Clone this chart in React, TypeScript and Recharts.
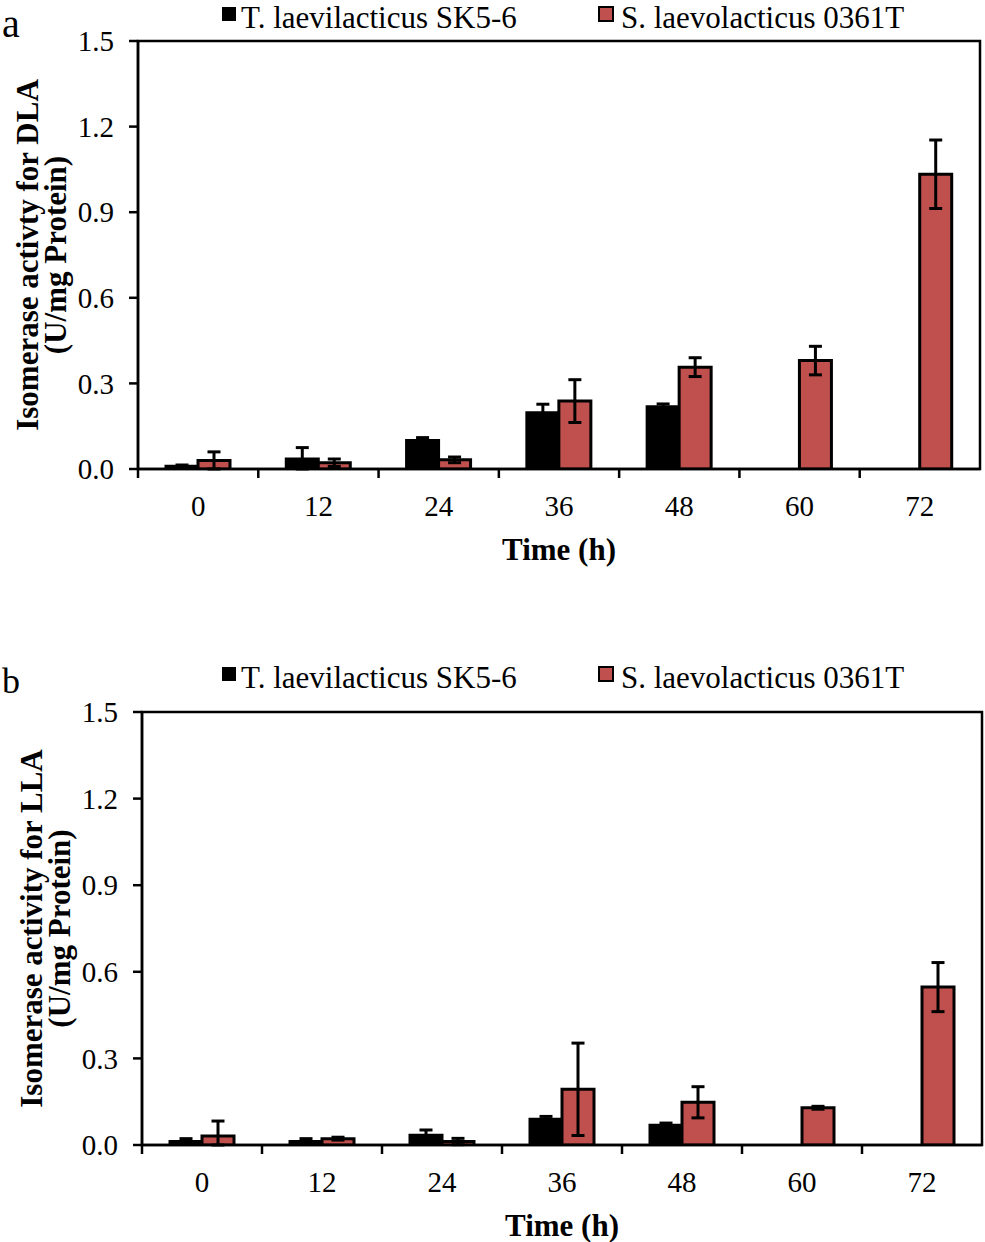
import React from 'react';
import { BarChart, Bar, XAxis, YAxis, ErrorBar, Legend, ReferenceArea } from 'recharts';

const times = ['0', '12', '24', '36', '48', '60', '72'];
const seriesNames = ['T. laevilacticus SK5-6', 'S. laevolacticus 0361T'];
const yTicks = [0, 0.3, 0.6, 0.9, 1.2, 1.5];

// panel a: DLA
const dlaSK = [0.01, 0.035, 0.1, 0.197, 0.218, 0, 0];
const dlaSKErr = [0.004, 0.04, 0.01, 0.03, 0.01, 0, 0];
const dla0361 = [0.03, 0.022, 0.032, 0.238, 0.357, 0.38, 1.033];
const dla0361Err = [0.03, 0.013, 0.01, 0.075, 0.033, 0.05, 0.12];

// panel b: LLA
const llaSK = [0.012, 0.012, 0.034, 0.089, 0.068, 0, 0];
const llaSKErr = [0.01, 0.01, 0.018, 0.01, 0.008, 0, 0];
const lla0361 = [0.031, 0.022, 0.012, 0.193, 0.148, 0.129, 0.547];
const lla0361Err = [0.052, 0.005, 0.011, 0.16, 0.054, 0.005, 0.085];

const FONT = '"Liberation Serif", "Times New Roman", serif';
const RED = '#C0504D';
const X_TICK_SIZE = 8;
const X_TICK_MARGIN = 18;

// lower whisker stops at the axis, like the clipped Excel original
const errPair = (v: number, e: number) => [Math.min(v, e), e];

const makeRows = (sk: number[], skErr: number[], st: number[], stErr: number[]) =>
  times.map((t, i) => ({
    t,
    sk: sk[i],
    skErr: errPair(sk[i], skErr[i]),
    st: st[i],
    stErr: errPair(st[i], stErr[i]),
  }));

const XTick = (props: any) => {
  const { x, y, payload } = props;
  const half = payload && payload.offset ? payload.offset : 60;
  const axisY = y - X_TICK_SIZE - X_TICK_MARGIN;
  return (
    <g>
      <line x1={x - half} x2={x - half} y1={axisY} y2={axisY + 9} stroke="#000" strokeWidth={2.5} />
      <text x={x} y={y} dy="0.71em" textAnchor="middle" fontSize={29} fontFamily={FONT} fill="#000">
        {payload.value}
      </text>
    </g>
  );
};

const LegendBox = () => (
  <div style={{ position: 'relative', height: 34, fontFamily: FONT, fontSize: 31, color: '#000' }}>
    <div style={{ position: 'absolute', left: 222, top: 7, width: 14, height: 14, background: '#000' }} />
    <div style={{ position: 'absolute', left: 241, top: 0, lineHeight: 'normal', whiteSpace: 'nowrap' }}>
      {seriesNames[0]}
    </div>
    <div
      style={{
        position: 'absolute', left: 598, top: 6, width: 12, height: 12,
        background: RED, border: '2px solid #000',
      }}
    />
    <div style={{ position: 'absolute', left: 621, top: 0, lineHeight: 'normal', whiteSpace: 'nowrap' }}>
      {seriesNames[1]}
    </div>
  </div>
);

type PanelProps = {
  letter: string;
  letterSize: number;
  top: number;
  height: number;
  margin: { top: number; right: number; bottom: number; left: number };
  rows: any[];
  yLabel: string[];
};

const Panel = ({ letter, letterSize, top, height, margin, rows, yLabel }: PanelProps) => {
  const plotTop = margin.top;
  const plotBottom = height - margin.bottom - 90;
  const plotLeft = margin.left + 58;
  const plotRight = 985 - margin.right;
  const cy = (plotTop + plotBottom) / 2;

  return (
    <div style={{ position: 'absolute', left: 0, top, width: 985, height }}>
      <div
        style={{
          position: 'absolute', left: 2, top: 0,
          fontFamily: FONT, fontSize: letterSize, lineHeight: 'normal',
        }}
      >
        {letter}
      </div>
      <BarChart width={985} height={height} data={rows} margin={margin} barGap={0}>
        <Legend verticalAlign="middle" wrapperStyle={{ top: 0, left: 0, width: 985 }} content={<LegendBox />} />
        <XAxis
          dataKey="t"
          height={90}
          interval={0}
          tickLine={false}
          tickSize={X_TICK_SIZE}
          tickMargin={X_TICK_MARGIN}
          axisLine={{ stroke: '#000', strokeWidth: 2.5 }}
          tick={<XTick />}
          label={{
            content: () => (
              <text
                x={(plotLeft + plotRight) / 2}
                y={plotBottom + 91}
                textAnchor="middle"
                fontSize={31}
                fontWeight="bold"
                fontFamily={FONT}
                fill="#000"
              >
                Time (h)
              </text>
            ),
          }}
        />
        <YAxis
          type="number"
          domain={[0, 1.5]}
          allowDataOverflow
          ticks={yTicks}
          interval={0}
          width={58}
          tickFormatter={(v: number) => v.toFixed(1)}
          tickSize={9}
          tickMargin={15}
          tick={{ fontSize: 29, fontFamily: FONT, fill: '#000' }}
          tickLine={{ stroke: '#000', strokeWidth: 2.5 }}
          axisLine={{ stroke: '#000', strokeWidth: 2.5 }}
          label={{
            content: () => (
              <g>
                {yLabel.map((line, i) => (
                  <text
                    key={i}
                    transform={`translate(${margin.left - 53 + i * 28}, ${cy}) rotate(-90)`}
                    textAnchor="middle"
                    dominantBaseline="central"
                    fontSize={31}
                    fontWeight="bold"
                    fontFamily={FONT}
                    fill="#000"
                  >
                    {line}
                  </text>
                ))}
              </g>
            ),
          }}
        />
        <ReferenceArea x1={times[0]} x2={times[times.length - 1]} y1={0} y2={1.5}
          fill="none" fillOpacity={0} stroke="#000" strokeWidth={2.5} ifOverflow="visible" />
        <Bar dataKey="sk" name={seriesNames[0]} fill="#000" stroke="#000" strokeWidth={3} barSize={32}
          isAnimationActive={false}>
          <ErrorBar dataKey="skErr" direction="y" width={6.5} stroke="#000" strokeWidth={3} />
        </Bar>
        <Bar dataKey="st" name={seriesNames[1]} fill={RED} stroke="#000" strokeWidth={3} barSize={32}
          isAnimationActive={false}>
          <ErrorBar dataKey="stErr" direction="y" width={6.5} stroke="#000" strokeWidth={3} />
        </Bar>
      </BarChart>
    </div>
  );
};

const App = () => (
  <div style={{ position: 'absolute', left: 0, top: 0, width: 985, height: 1242, background: '#fff' }}>
    <Panel
      letter="a"
      letterSize={40}
      top={0}
      height={600}
      margin={{ top: 41, right: 5, bottom: 41, left: 80 }}
      rows={makeRows(dlaSK, dlaSKErr, dla0361, dla0361Err)}
      yLabel={['Isomerase activty for DLA', '(U/mg Protein)']}
    />
    <Panel
      letter="b"
      letterSize={36}
      top={660}
      height={582}
      margin={{ top: 52, right: 3, bottom: 7, left: 84 }}
      rows={makeRows(llaSK, llaSKErr, lla0361, lla0361Err)}
      yLabel={['Isomerase activity for LLA', '(U/mg Protein)']}
    />
  </div>
);

export default App;
